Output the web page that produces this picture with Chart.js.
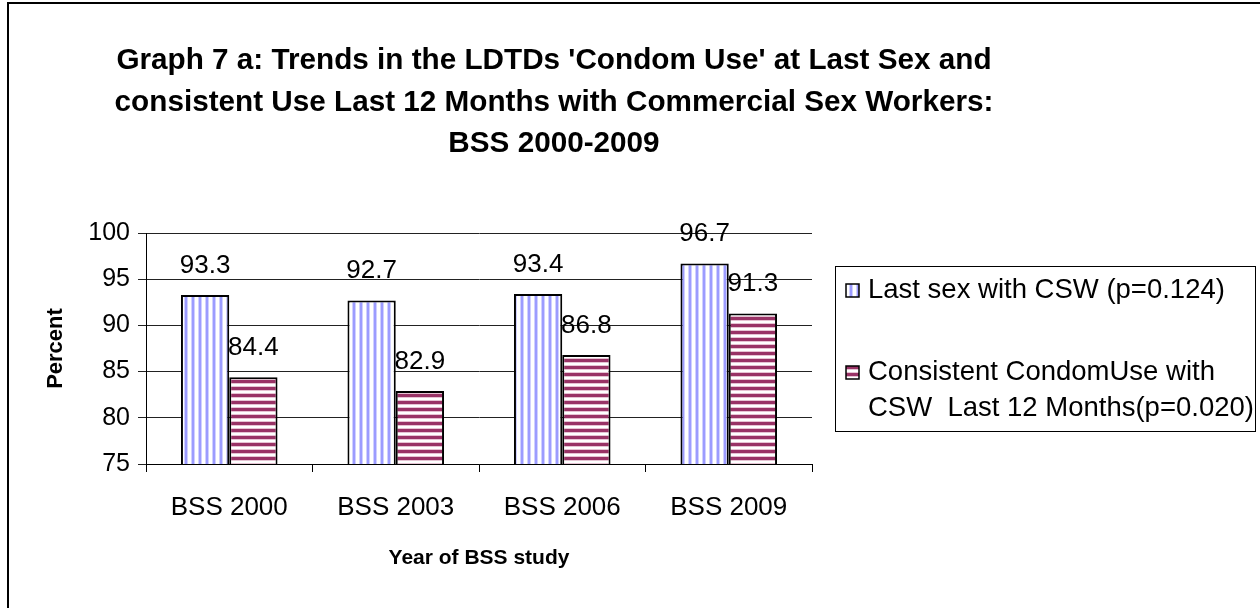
<!DOCTYPE html>
<html>
<head>
<meta charset="utf-8">
<script src="https://cdn.jsdelivr.net/npm/chart.js@4.4.1/dist/chart.umd.min.js"></script>
<style>
  html, body { margin: 0; padding: 0; background: #fff; }
  #wrap { width: 1260px; height: 608px; }
</style>
</head>
<body>
<div id="wrap"><canvas id="bssChart" width="1260" height="608"></canvas></div>
<script>
const FONT = "'Liberation Sans', Arial, sans-serif";

const titleLines = [
    "Graph 7 a: Trends in the LDTDs 'Condom Use' at Last Sex and",
    "consistent Use Last 12 Months with Commercial Sex Workers:",
    "BSS 2000-2009"
];
const surveyYears = ['BSS 2000', 'BSS 2003', 'BSS 2006', 'BSS 2009'];
const lastSexCSW = [93.3, 92.7, 93.4, 96.7];
const consistentUseCSW = [84.4, 82.9, 86.8, 91.3];
const seriesLabels = [
    'Last sex with CSW (p=0.124)',
    'Consistent CondomUse with CSW  Last 12 Months(p=0.020)'
];
const legendLines = [
    ['Last sex with CSW (p=0.124)'],
    ['Consistent CondomUse with', 'CSW  Last 12 Months(p=0.020)']
];
const yTicks = { min: 75, max: 100, step: 5 };

// white tile with thin blue vertical lines
function verticalStripes() {
    const c = document.createElement('canvas');
    c.width = 7; c.height = 7;
    const g = c.getContext('2d');
    g.fillStyle = '#ffffff';
    g.fillRect(0, 0, 7, 7);
    g.fillStyle = '#d0d0ff';
    g.fillRect(2, 0, 1, 7);
    g.fillRect(5, 0, 1, 7);
    g.fillStyle = '#9c9cff';
    g.fillRect(3, 0, 2, 7);
    return g.createPattern(c, 'repeat');
}

// white tile with maroon horizontal bands
function horizontalStripes() {
    const c = document.createElement('canvas');
    c.width = 7; c.height = 7;
    const g = c.getContext('2d');
    g.fillStyle = '#ffffff';
    g.fillRect(0, 0, 7, 7);
    g.fillStyle = '#e6c3d3';
    g.fillRect(0, 1, 7, 1);
    g.fillRect(0, 5, 7, 1);
    g.fillStyle = '#993366';
    g.fillRect(0, 2, 7, 3);
    return g.createPattern(c, 'repeat');
}

const fills = [verticalStripes(), horizontalStripes()];

const frameAndTitle = {
    id: 'frameAndTitle',
    beforeDraw(chart) {
        const ctx = chart.ctx;
        ctx.save();
        ctx.fillStyle = '#fff';
        ctx.fillRect(0, 0, chart.width, chart.height);
        ctx.strokeStyle = '#000';
        ctx.lineWidth = 2;
        ctx.beginPath();
        ctx.moveTo(8, chart.height);
        ctx.lineTo(8, 3);
        ctx.lineTo(chart.width, 3);
        ctx.stroke();
        ctx.fillStyle = '#000';
        ctx.font = 'bold 29.7px ' + FONT;
        ctx.textAlign = 'center';
        ctx.textBaseline = 'middle';
        titleLines.forEach((t, i) => ctx.fillText(t, 554, 61 + i * 41.5));
        ctx.restore();
    }
};

const valueLabels = {
    id: 'valueLabels',
    afterDatasetsDraw(chart) {
        const ctx = chart.ctx;
        ctx.save();
        ctx.fillStyle = '#000';
        ctx.font = '26px ' + FONT;
        ctx.textAlign = 'center';
        ctx.textBaseline = 'alphabetic';
        chart.data.datasets.forEach((ds, i) => {
            chart.getDatasetMeta(i).data.forEach((bar, j) => {
                ctx.fillText(ds.data[j].toFixed(1), bar.x, bar.y - 22);
            });
        });
        ctx.restore();
    }
};

const sideLegend = {
    id: 'sideLegend',
    afterDraw(chart) {
        const ctx = chart.ctx;
        const box = { x: 835.5, y: 266.5, w: 420, h: 165 };
        ctx.save();
        ctx.strokeStyle = '#000';
        ctx.lineWidth = 1;
        ctx.strokeRect(box.x, box.y, box.w, box.h);
        ctx.beginPath();
        ctx.rect(box.x, box.y, box.w, box.h);
        ctx.clip();
        ctx.font = '27.5px ' + FONT;
        ctx.textBaseline = 'middle';
        ctx.textAlign = 'left';
        const rows = [290, 372];
        legendLines.forEach((lines, i) => {
            const y = rows[i];
            ctx.fillStyle = fills[i];
            ctx.fillRect(846, y - 6, 13, 13);
            ctx.strokeStyle = '#000';
            ctx.lineWidth = 1.5;
            ctx.strokeRect(846, y - 6, 13, 13);
            ctx.fillStyle = '#000';
            lines.forEach((t, k) => ctx.fillText(t, 868, y + k * 36));
        });
        ctx.restore();
    }
};

new Chart(document.getElementById('bssChart'), {
    type: 'bar',
    data: {
        labels: surveyYears,
        datasets: [
            {
                label: seriesLabels[0],
                data: lastSexCSW,
                backgroundColor: fills[0],
                borderColor: '#000',
                borderWidth: 2
            },
            {
                label: seriesLabels[1],
                data: consistentUseCSW,
                backgroundColor: fills[1],
                borderColor: '#000',
                borderWidth: 2
            }
        ]
    },
    options: {
        responsive: false,
        animation: false,
        events: [],
        categoryPercentage: 0.58,
        barPercentage: 1,
        layout: { padding: { left: 0, top: 233, right: 448, bottom: 0 } },
        plugins: {
            legend: { display: false },
            title: { display: false },
            tooltip: { enabled: false }
        },
        scales: {
            x: {
                afterFit(scale) { scale.height = 144; },
                grid: {
                    drawOnChartArea: false,
                    drawTicks: true,
                    tickLength: 8,
                    color: '#000'
                },
                border: { color: '#000', width: 1 },
                ticks: {
                    color: '#000',
                    padding: 20,
                    font: { family: FONT, size: 26 }
                },
                title: {
                    display: true,
                    text: 'Year of BSS study',
                    color: '#000',
                    font: { family: FONT, size: 21, weight: 'bold' },
                    padding: { top: 0, bottom: 37 }
                }
            },
            y: {
                min: yTicks.min,
                max: yTicks.max,
                afterFit(scale) { scale.width = 146; },
                grid: {
                    color: '#222',
                    tickLength: 8
                },
                border: { color: '#000', width: 1 },
                ticks: {
                    stepSize: yTicks.step,
                    color: '#000',
                    padding: 8,
                    font: { family: FONT, size: 25 }
                },
                title: {
                    display: true,
                    text: 'Percent',
                    color: '#000',
                    font: { family: FONT, size: 22, weight: 'bold' },
                    padding: { top: 43, bottom: 0 }
                }
            }
        }
    },
    plugins: [frameAndTitle, valueLabels, sideLegend]
});
</script>
</body>
</html>
